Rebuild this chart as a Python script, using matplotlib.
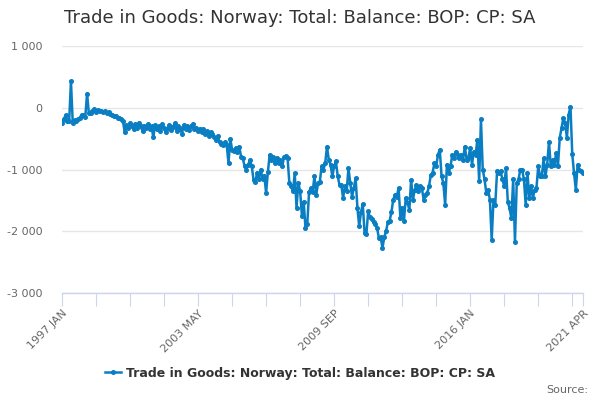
import matplotlib
matplotlib.use("Agg")
import matplotlib.pyplot as plt
import numpy as np

## Monthly balance values, 1997 JAN .. 2021 APR (one row per year)
balance = [
    -250, -190, -120, -210, -220, 430, -240, -200, -220, -190, -160, -110,        # 1997
    -120, -150, 230, -90, -80, -60, -20, -70, -40, -60, -50, -70,                # 1998
    -60, -80, -70, -100, -120, -140, -130, -170, -160, -190, -210, -390,         # 1999
    -280, -330, -250, -300, -350, -270, -330, -240, -300, -380, -290, -330,      # 2000
    -260, -340, -300, -480, -280, -350, -300, -380, -270, -320, -400, -330,      # 2001
    -280, -360, -310, -250, -370, -300, -330, -420, -280, -340, -300, -360,      # 2002
    -300, -260, -350, -320, -380, -340, -400, -350, -420, -380, -450, -400,      # 2003
    -430, -480, -520, -450, -560, -580, -600, -560, -600, -900, -500, -680,      # 2004
    -700, -650, -720, -630, -790, -820, -950, -1000, -920, -850, -950, -1170,    # 2005
    -1200, -1050, -1150, -1000, -1150, -1100, -1380, -1040, -760, -850, -800, -900,  # 2006
    -820, -900, -850, -950, -800, -780, -820, -1220, -1270, -1350, -1060, -1620,     # 2007
    -1220, -1350, -1750, -1520, -1950, -1880, -1360, -1300, -1360, -1110, -1410, -1220,  # 2008
    -1200, -950, -1000, -900, -630, -840, -920, -1110, -950, -870, -1110, -1250,     # 2009
    -1250, -1460, -1270, -1350, -980, -1220, -1440, -1300, -1140, -1620, -1920, -1690,   # 2010
    -1560, -2030, -2050, -1680, -1770, -1800, -1850, -1880, -1950, -2110, -2100, -2270,  # 2011
    -2100, -2000, -1850, -1830, -1690, -1490, -1410, -1440, -1300, -1780, -1620, -1830,  # 2012
    -1460, -1540, -1650, -1170, -1490, -1330, -1250, -1350, -1270, -1300, -1490, -1410,  # 2013
    -1380, -1270, -1090, -1050, -900, -950, -760, -680, -1110, -1220, -1570, -920,   # 2014
    -1060, -950, -760, -810, -710, -760, -810, -760, -840, -630, -840, -810,         # 2015
    -650, -920, -710, -760, -520, -1190, -190, -1000, -1160, -1380, -1330, -1490,    # 2016
    -2140, -1490, -1570, -1030, -1060, -1030, -1160, -1270, -980, -1520, -1630, -1790,   # 2017
    -1160, -2170, -1220, -1160, -1000, -1000, -1160, -1570, -1060, -1460, -1270, -1460,  # 2018
    -1330, -1300, -950, -1110, -1110, -815, -1110, -920, -550, -950, -840, -920,     # 2019
    -735, -950, -490, -330, -170, -240, -490, -110, 20, -750, -1060, -1330,          # 2020
    -920, -1000, -1030, -1060,                                                       # 2021
]

series_name = "Trade in Goods: Norway: Total: Balance: BOP: CP: SA"
label_months = [0, 76, 152, 228, 291]
label_text = ["1997 JAN", "2003 MAY", "2009 SEP", "2016 JAN", "2021 APR"]
y_ticks = [-3000, -2000, -1000, 0, 1000]
y_labels = ["-3 000", "-2 000", "-1 000", "0", "1 000"]

months = np.arange(len(balance))

fig = plt.figure(figsize=(6, 4), dpi=100)
ax = fig.add_axes([62 / 600, 1 - 293 / 400, 521 / 600, 247 / 400])

ax.plot(months, balance, color="#0a7ec2", linewidth=1.8,
        marker="o", markersize=2.6, label=series_name, zorder=3)

## axes limits and grid
ax.set_xlim(0, len(balance) - 1)
ax.set_ylim(-3000, 1000)
ax.set_yticks(y_ticks)
ax.set_yticklabels(y_labels)
ax.yaxis.grid(True, color="#e6e6e6", linewidth=1)
ax.set_axisbelow(True)

for side in ["left", "right", "top"]:
    ax.spines[side].set_visible(False)
ax.spines["bottom"].set_color("#ccd6eb")
ax.spines["bottom"].set_linewidth(1)

## ticks every 19 months plus the last month, labels on some of them
tick_pos = list(range(0, len(balance), 19)) + [len(balance) - 1]
ax.set_xticks(tick_pos)
ax.set_xticklabels([label_text[label_months.index(t)] if t in label_months else ""
                    for t in tick_pos])
ax.tick_params(axis="x", direction="out", length=9, color="#ccd6eb",
               labelsize=8, labelcolor="#666666", pad=2)
ax.tick_params(axis="y", length=0, labelsize=8, labelcolor="#666666", pad=14)
for lbl in ax.get_xticklabels():
    lbl.set_rotation(45)
    lbl.set_ha("right")
    lbl.set_va("top")
    lbl.set_rotation_mode("anchor")

## title, legend, source
fig.text(0.5, 0.955, series_name, ha="center", va="center",
         fontsize=13, color="#333333")
leg = fig.legend(loc="center", bbox_to_anchor=(0.5, 1 - 373 / 400), frameon=False,
                 handlelength=1.3, handletextpad=0.4,
                 prop={"size": 9, "weight": "bold"})
for t in leg.get_texts():
    t.set_color("#333333")
fig.text(588 / 600, 1 - 390 / 400, "Source:", ha="right", va="center",
         fontsize=8, color="#666666")

plt.savefig("out.png", dpi=100)
plt.close()
